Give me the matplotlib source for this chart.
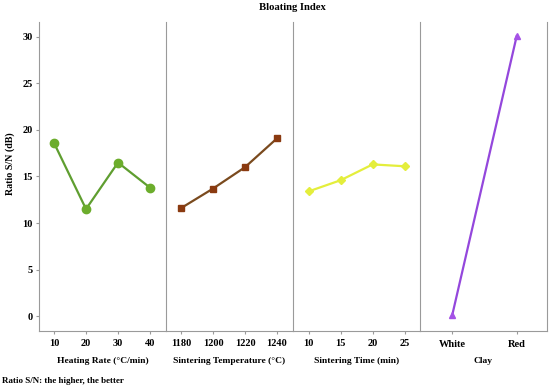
import matplotlib.pyplot as plt

# =====================================================
# Data (S/N ratios)
# =====================================================

heating_rate = [10, 20, 30, 40]
heating_sn = [18.6, 11.5, 16.5, 13.8]

sinter_temp = [1180, 1200, 1220, 1240]
sinter_temp_sn = [11.6, 13.7, 16.0, 19.1]

sinter_time = [10, 15, 20, 25]
sinter_time_sn = [13.4, 14.6, 16.3, 16.1]

clay = ["White", "Red"]
clay_sn = [0.1, 30.1]

y_ticks = [0, 5, 10, 15, 20, 25, 30]

# =====================================================
# Style
# =====================================================

plt.rcParams["font.family"] = ["Liberation Serif", "DejaVu Serif"]
plt.rcParams["font.weight"] = "bold"
plt.rcParams["font.size"] = 7.5

spine_color = "#9a9a9a"

fig = plt.figure(figsize=(5.5, 3.89), dpi=100)

left, bottom = 39 / 550, 1 - 331 / 389
width, height = 127 / 550, 309 / 389

panels = [
    (heating_rate, heating_sn, "Heating Rate (°C/min)", "o", 6.0,
     "#6cad2c", "#5f9e30", (5.3, 45)),
    (sinter_temp, sinter_temp_sn, "Sintering Temperature (°C)", "s", 4.6,
     "#8a3a10", "#7a4a1e", (1170.6, 1250)),
    (sinter_time, sinter_time_sn, "Sintering Time (min)", "D", 4.0,
     "#e4ee3c", "#e4ee3c", (7.55, 27.4)),
    (list(range(len(clay))), clay_sn, "Clay", "^", 5.0,
     "#a552e6", "#9447dc", (-0.5, 1.47)),
]

for i, (xv, yv, label, marker, ms, mcolor, lcolor, xlim) in enumerate(panels):
    ax = fig.add_axes([left + i * width, bottom, width, height])
    ax.plot(xv, yv, color=lcolor, lw=1.6, marker=marker, ms=ms,
            markerfacecolor=mcolor, markeredgecolor=mcolor, zorder=3)
    ax.set_xlim(*xlim)
    ax.set_ylim(-1.61, 31.61)
    ax.set_xticks(xv)
    if i == 3:
        ax.set_xticklabels(clay)

    # axis title placed at a fixed height so all four line up
    fig.text(left + (i + 0.5) * width, 1 - 361 / 389, label,
             ha="center", va="center", fontweight="bold", fontsize=6.8)

    for side in ["top", "right"]:
        ax.spines[side].set_visible(False)
    ax.spines["left"].set_color(spine_color)
    ax.spines["bottom"].set_color(spine_color)
    if i == 3:
        ax.spines["right"].set_visible(True)
        ax.spines["right"].set_color(spine_color)

    ax.tick_params(axis="x", length=2.5, color=spine_color,
                   pad=4 if i == 3 else 3)
    if i == 0:
        ax.set_yticks(y_ticks)
        ax.tick_params(axis="y", length=2.5, color=spine_color, pad=2)
    else:
        ax.set_yticks([])

fig.text(10 / 550, 1 - 164 / 389, "Ratio S/N (dB)", rotation=90,
         ha="center", va="center", fontweight="bold", fontsize=7.2)
fig.text(292 / 550, 1 - 7 / 389, "Bloating Index", ha="center", va="center",
         fontweight="bold", fontsize=7.7)
fig.text(2 / 550, 1 - 381 / 389, "Ratio S/N: the higher, the better",
         ha="left", va="center", fontweight="bold", fontsize=6.5)

fig.savefig("out.png", dpi=100)
